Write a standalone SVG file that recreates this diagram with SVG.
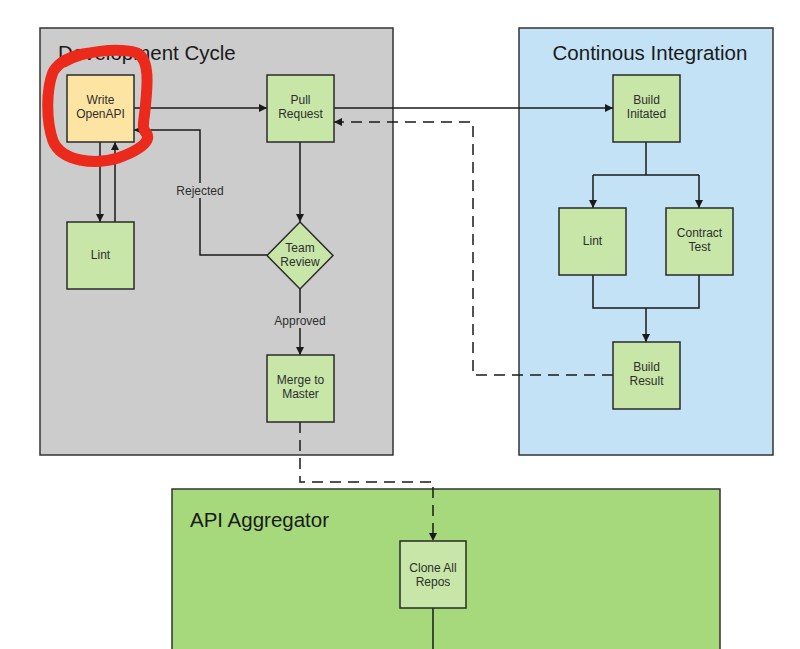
<svg xmlns="http://www.w3.org/2000/svg" width="800" height="649" viewBox="0 0 800 649">
<defs>
<marker id="ah" viewBox="0 0 10 10" refX="10" refY="5" markerWidth="8" markerHeight="8" markerUnits="userSpaceOnUse" orient="auto">
<path d="M0,0 L10,5 L0,10 z" fill="#1a1a1a"/>
</marker>
<style>
.cont{stroke:#333;stroke-width:1.5}
.node{fill:#c7e6a7;stroke:#2a2a2a;stroke-width:1.5}
.title{font-family:"Liberation Sans",Arial,sans-serif;font-size:20.5px;fill:#1a1a1a}
.lbl{font-family:"Liberation Sans",Arial,sans-serif;font-size:12px;fill:#2e2e2e;text-anchor:middle}
.edge{fill:none;stroke:#1a1a1a;stroke-width:1.5}
.dash{stroke-dasharray:11 7}
</style>
</defs>
<rect width="800" height="649" fill="#ffffff"/>

<g id="dev-cycle">
<rect class="cont" x="40" y="28" width="353" height="427" fill="#cccccc"/>
<text class="title" x="58" y="60">Development Cycle</text>
</g>
<g id="ci">
<rect class="cont" x="519" y="28" width="254" height="427" fill="#c3e2f6"/>
<text class="title" x="650" y="60" text-anchor="middle">Continous Integration</text>
</g>
<g id="api-aggregator">
<rect class="cont" x="172" y="489" width="548" height="175" fill="#a6d97b"/>
<text class="title" x="190" y="527">API Aggregator</text>
</g>

<g id="connectors">
<path class="edge" d="M134,108 H267" marker-end="url(#ah)"/>
<path class="edge" d="M334,108 H613" marker-end="url(#ah)"/>
<path class="edge" d="M100,142 V222" marker-end="url(#ah)"/>
<path class="edge" d="M115,222 V142" marker-end="url(#ah)"/>
<path class="edge" d="M300,142 V222" marker-end="url(#ah)"/>
<path class="edge" d="M267,255 H200 V130 H134" marker-end="url(#ah)"/>
<path class="edge" d="M300,289 V355" marker-end="url(#ah)"/>
<path class="edge dash" d="M613,375 H473 V122 H334" marker-end="url(#ah)"/>
<path class="edge dash" d="M300,422 V482 H433 V541" marker-end="url(#ah)"/>
<path class="edge" d="M646,142 V175"/>
<path class="edge" d="M593,175 H699"/>
<path class="edge" d="M593,175 V208" marker-end="url(#ah)"/>
<path class="edge" d="M699,175 V208" marker-end="url(#ah)"/>
<path class="edge" d="M593,275 V308 H699 V275"/>
<path class="edge" d="M646,308 V342" marker-end="url(#ah)"/>
<path class="edge" d="M433,608 V649"/>
<rect x="174" y="183" width="52" height="15" fill="#cccccc"/>
<text class="lbl" x="200" y="195">Rejected</text>
<rect x="272" y="313" width="56" height="15" fill="#cccccc"/>
<text class="lbl" x="300" y="325">Approved</text>
</g>

<g id="write-openapi">
<rect x="67" y="75" width="67" height="67" fill="#fde4a3" stroke="#2a2a2a" stroke-width="1.5"/>
<text class="lbl" x="100.5" y="104">Write</text>
<text class="lbl" x="100.5" y="118">OpenAPI</text>
</g>
<g id="pull-request">
<rect class="node" x="267" y="75" width="67" height="67"/>
<text class="lbl" x="300.5" y="104">Pull</text>
<text class="lbl" x="300.5" y="118">Request</text>
</g>
<g id="lint-dev">
<rect class="node" x="67" y="222" width="67" height="67"/>
<text class="lbl" x="100.5" y="259">Lint</text>
</g>
<g id="team-review">
<path class="node" d="M300,222 L333,255.5 L300,289 L267,255.5 Z"/>
<text class="lbl" x="300" y="252">Team</text>
<text class="lbl" x="300" y="266">Review</text>
</g>
<g id="merge-to-master">
<rect class="node" x="267" y="355" width="67" height="67"/>
<text class="lbl" x="300.5" y="384">Merge to</text>
<text class="lbl" x="300.5" y="398">Master</text>
</g>
<g id="build-initiated">
<rect class="node" x="613" y="75" width="67" height="67"/>
<text class="lbl" x="646.5" y="104">Build</text>
<text class="lbl" x="646.5" y="118">Initated</text>
</g>
<g id="lint-ci">
<rect class="node" x="559" y="208" width="67" height="67"/>
<text class="lbl" x="592.5" y="245">Lint</text>
</g>
<g id="contract-test">
<rect class="node" x="666" y="208" width="67" height="67"/>
<text class="lbl" x="699.5" y="237">Contract</text>
<text class="lbl" x="699.5" y="251">Test</text>
</g>
<g id="build-result">
<rect class="node" x="613" y="342" width="67" height="67"/>
<text class="lbl" x="646.5" y="371">Build</text>
<text class="lbl" x="646.5" y="385">Result</text>
</g>
<g id="clone-all-repos">
<rect class="node" x="400" y="541" width="66" height="67" fill="#c5e6a8"/>
<text class="lbl" x="433" y="572">Clone All</text>
<text class="lbl" x="433" y="586">Repos</text>
</g>

<g id="red-circle">
<path d="M64,62 C84,50 120,48 137,53 C151,60 147,90 145,110 C144,122 141,128 147,134 C151,143 135,152 118,158 C95,165 62,162 53,141 C46,121 46,90 53,72 C59,62 72,55 90,53" fill="none" stroke="#ec2a1c" stroke-width="11" stroke-linecap="round" stroke-linejoin="round"/>
</g>
</svg>
